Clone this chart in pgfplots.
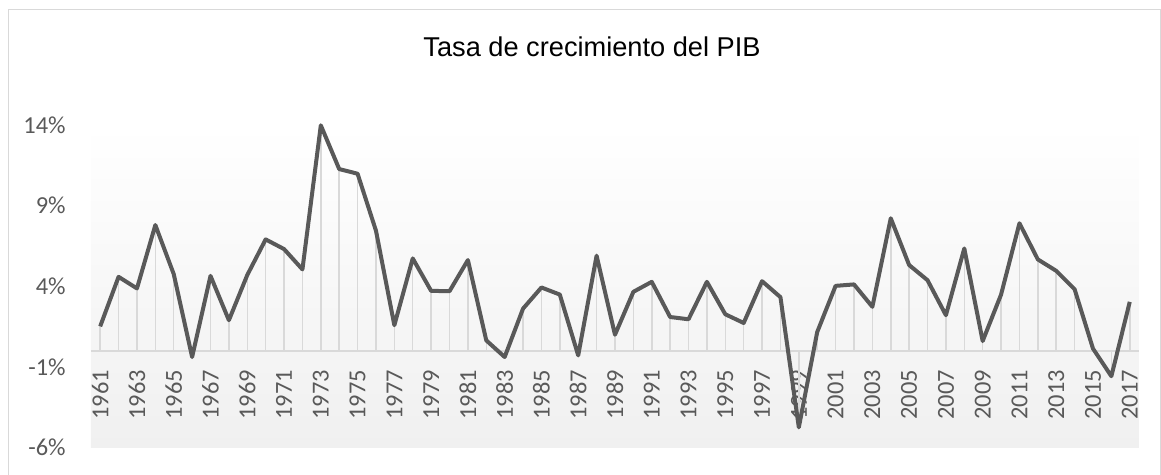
\documentclass[border=0pt]{standalone}
\usepackage{pgfplots}
\pgfplotsset{compat=1.18}
\usepackage{fontspec}
\setmainfont{Carlito}
\newfontfamily\titlefont{Liberation Sans}
\definecolor{txtgray}{HTML}{595959}
\definecolor{linegray}{HTML}{595959}
\definecolor{gridgray}{HTML}{D9D9D9}
\definecolor{bggray}{HTML}{F0F0F0}
\pgfplotstableread{
year value
1961 1.52
1962 4.59
1963 3.87
1964 7.80
1965 4.76
1966 -0.38
1967 4.65
1968 1.90
1969 4.70
1970 6.91
1971 6.31
1972 5.05
1973 13.98
1974 11.27
1975 10.98
1976 7.45
1977 1.59
1978 5.73
1979 3.72
1980 3.70
1981 5.63
1982 0.65
1983 -0.38
1984 2.62
1985 3.93
1986 3.49
1987 -0.28
1988 5.90
1989 1.00
1990 3.66
1991 4.28
1992 2.10
1993 1.96
1994 4.28
1995 2.27
1996 1.73
1997 4.32
1998 3.33
1999 -4.74
2000 1.17
2001 4.03
2002 4.12
2003 2.73
2004 8.22
2005 5.32
2006 4.38
2007 2.21
2008 6.35
2009 0.61
2010 3.49
2011 7.91
2012 5.67
2013 4.96
2014 3.82
2015 0.14
2016 -1.57
2017 3.04
}\gdp
\begin{document}
\begin{tikzpicture}
\path[use as bounding box] (-91bp,-27.3bp) rectangle (1070bp,447.7bp);
\draw[gridgray, line width=1.5bp] (-82.5bp,-40bp) -- (-82.5bp,438.2bp) -- (1069.5bp,438.2bp) -- (1069.5bp,-40bp);
\begin{axis}[
  at={(0,0)}, anchor=south west,
  scale only axis, width=1048bp, height=322.7bp,
  xmin=1960.5, xmax=2017.5, ymin=-6, ymax=14,
  axis x line=middle, axis y line=left,
  x axis line style={gridgray, line width=1.5bp, -},
  y axis line style={draw=none, -},
  axis background/.style={shade, top color=white, bottom color=bggray},
  xtick={1961,1963,...,2017}, ytick={-6,-1,4,9,14},
  tick style={draw=none},
  /pgf/number format/assume math mode=true,
  xticklabel style={/pgf/number format/1000 sep={}, rotate=90, anchor=east, inner sep=0pt, font=\fontsize{24.5}{28}\selectfont, text=txtgray},
  xticklabel shift=17bp,
  yticklabel={\pgfmathprintnumber{\tick}\%},
  yticklabel style={anchor=east, inner sep=0pt, font=\fontsize{24.5}{28}\selectfont, text=txtgray},
  yticklabel shift=23bp,
  clip=false,
]
\addplot[ycomb, gridgray, line width=1.5bp] table[x=year,y=value]{\gdp};
\addplot[linegray, line width=4bp, line join=round, mark=none] table[x=year,y=value]{\gdp};
\end{axis}
\node[font=\titlefont\fontsize{27.3}{32}\selectfont, text=black] at (501bp,400.5bp) {Tasa de crecimiento del PIB};
\end{tikzpicture}
\end{document}
